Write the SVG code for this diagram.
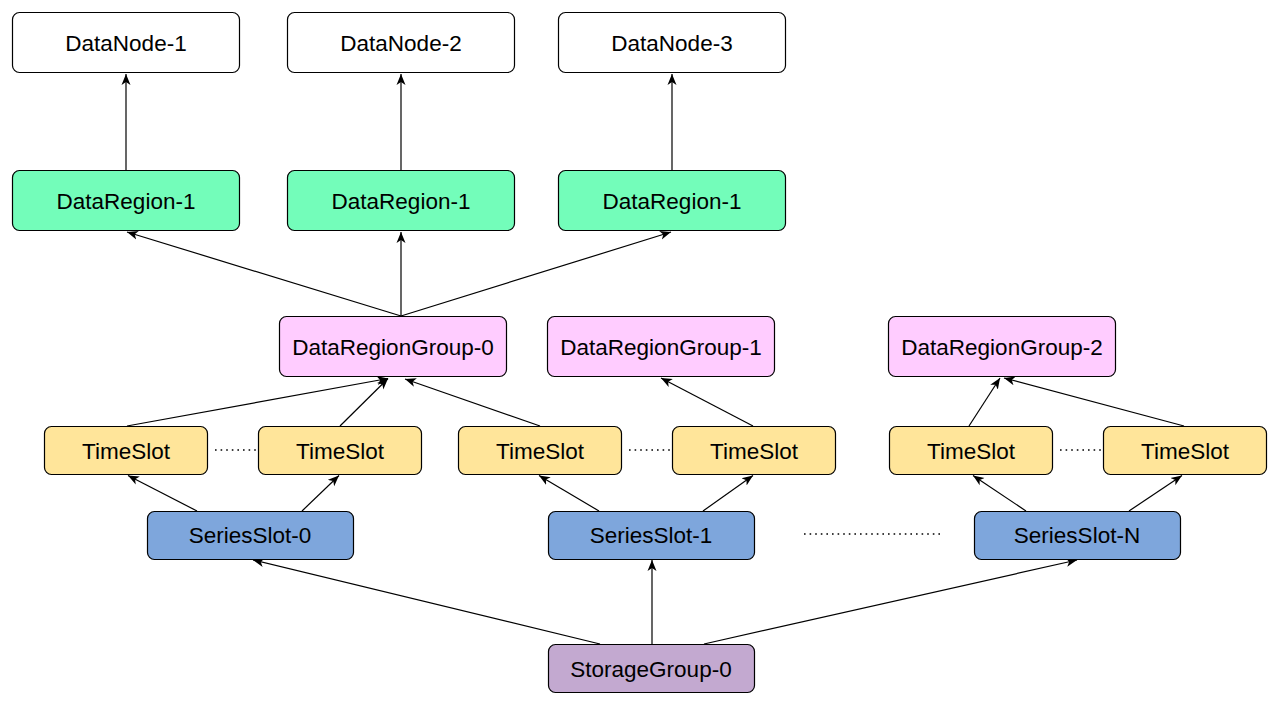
<svg xmlns="http://www.w3.org/2000/svg" width="1280" height="721" viewBox="0 0 1280 721">
<defs>
<style>
.n rect{stroke:#000;stroke-width:1.2;rx:7;ry:7}
.n text{font-family:"Liberation Sans",Arial,sans-serif;font-size:22.5px;fill:#000;text-anchor:middle}
.dn rect{fill:#fff}
.dr rect{fill:#73FDBA}
.drg rect{fill:#FFCCFF}
.ts rect{fill:#FFE59A}
.ss rect{fill:#7EA6DC}
.sg rect{fill:#C3A9D0}
.c line{stroke:#000;stroke-width:1.2;fill:none}
.c line.a{marker-end:url(#ah)}
.dot{stroke:#000;stroke-width:1.6;stroke-dasharray:1.6 4;fill:none}
</style>
<marker id="ah" markerUnits="userSpaceOnUse" markerWidth="13" markerHeight="13" refX="11" refY="5.5" orient="auto">
<path d="M0,1 L11,5.5 L0,10 L3,5.5 Z" fill="#000"/>
</marker>
</defs>
<rect width="1280" height="721" fill="#fff"/>
<g class="c" id="connectors">
<line class="a" x1="126" y1="170" x2="126" y2="74"/>
<line class="a" x1="401" y1="170" x2="401" y2="74"/>
<line class="a" x1="672" y1="170" x2="672" y2="74"/>
<line class="a" x1="401" y1="316" x2="127" y2="232"/>
<line class="a" x1="401" y1="316" x2="401" y2="232"/>
<line class="a" x1="401" y1="316" x2="671" y2="232"/>
<line class="a" x1="127" y1="426" x2="388" y2="378.5"/>
<line class="a" x1="340" y1="426" x2="388" y2="378.5"/>
<line class="a" x1="540" y1="426" x2="405" y2="379"/>
<line class="a" x1="753" y1="426" x2="661" y2="378"/>
<line class="a" x1="969" y1="426" x2="1000" y2="378"/>
<line class="a" x1="1184" y1="426" x2="1004" y2="378"/>
<line class="a" x1="197" y1="511" x2="128" y2="475.5"/>
<line class="a" x1="302" y1="511" x2="339" y2="475.5"/>
<line class="a" x1="599" y1="511" x2="539" y2="475.5"/>
<line class="a" x1="703" y1="511" x2="753" y2="475.5"/>
<line class="a" x1="1026" y1="511" x2="973" y2="475.5"/>
<line class="a" x1="1129" y1="511" x2="1182" y2="475.5"/>
<line class="a" x1="600" y1="644" x2="253" y2="560"/>
<line class="a" x1="652" y1="644" x2="652" y2="560"/>
<line class="a" x1="704" y1="644" x2="1077" y2="560"/>
</g>
<path class="dot" d="M215,450 H256 M629,450 H670 M1060,450 H1101 M804,534 H940"/>
<g class="n dn" id="datanode-1"><rect x="12.5" y="12.5" width="227" height="60"/><text x="126" y="50.5">DataNode-1</text></g>
<g class="n dn" id="datanode-2"><rect x="287.5" y="12.5" width="227" height="60"/><text x="401" y="50.5">DataNode-2</text></g>
<g class="n dn" id="datanode-3"><rect x="558.5" y="12.5" width="227" height="60"/><text x="672" y="50.5">DataNode-3</text></g>
<g class="n dr" id="dataregion-a"><rect x="12.5" y="170.5" width="227" height="60"/><text x="126" y="208.5">DataRegion-1</text></g>
<g class="n dr" id="dataregion-b"><rect x="287.5" y="170.5" width="227" height="60"/><text x="401" y="208.5">DataRegion-1</text></g>
<g class="n dr" id="dataregion-c"><rect x="558.5" y="170.5" width="227" height="60"/><text x="672" y="208.5">DataRegion-1</text></g>
<g class="n drg" id="drg-0"><rect x="279.5" y="316.5" width="227" height="60"/><text x="393" y="354.5">DataRegionGroup-0</text></g>
<g class="n drg" id="drg-1"><rect x="547.5" y="316.5" width="227" height="60"/><text x="661" y="354.5">DataRegionGroup-1</text></g>
<g class="n drg" id="drg-2"><rect x="888.5" y="316.5" width="227" height="60"/><text x="1002" y="354.5">DataRegionGroup-2</text></g>
<g class="n ts" id="ts-1"><rect x="44.5" y="426.5" width="163" height="48"/><text x="126" y="458.5">TimeSlot</text></g>
<g class="n ts" id="ts-2"><rect x="258.5" y="426.5" width="163" height="48"/><text x="340" y="458.5">TimeSlot</text></g>
<g class="n ts" id="ts-3"><rect x="458.5" y="426.5" width="163" height="48"/><text x="540" y="458.5">TimeSlot</text></g>
<g class="n ts" id="ts-4"><rect x="672.5" y="426.5" width="163" height="48"/><text x="754" y="458.5">TimeSlot</text></g>
<g class="n ts" id="ts-5"><rect x="889.5" y="426.5" width="163" height="48"/><text x="971" y="458.5">TimeSlot</text></g>
<g class="n ts" id="ts-6"><rect x="1103.5" y="426.5" width="163" height="48"/><text x="1185" y="458.5">TimeSlot</text></g>
<g class="n ss" id="ss-0"><rect x="147.5" y="511.5" width="206" height="48"/><text x="250" y="543">SeriesSlot-0</text></g>
<g class="n ss" id="ss-1"><rect x="548.5" y="511.5" width="206" height="48"/><text x="651" y="543">SeriesSlot-1</text></g>
<g class="n ss" id="ss-n"><rect x="974.5" y="511.5" width="206" height="48"/><text x="1077" y="543">SeriesSlot-N</text></g>
<g class="n sg" id="sg-0"><rect x="548.5" y="644.5" width="206" height="48"/><text x="651" y="676.5">StorageGroup-0</text></g>
</svg>
